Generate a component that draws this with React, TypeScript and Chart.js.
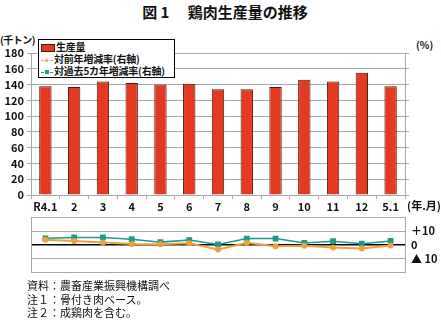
import React, { useEffect, useRef } from "react";
import { Chart, registerables } from "chart.js";

Chart.register(...registerables);

const categories = ["R4.1", "2", "3", "4", "5", "6", "7", "8", "9", "10", "11", "12", "5.1"];
const production = [138, 137, 144, 142, 140, 141, 134, 134, 137, 146, 144, 155, 138];
const yoyRate = [3.8, 3.0, 1.9, 0.8, 0.6, 1.3, -3.2, 1.7, -0.9, -0.6, -1.9, -2.6, -0.3];
const fiveYearRate = [4.9, 5.5, 5.5, 4.2, 2.1, 3.6, 0.4, 4.7, 4.7, 1.5, 2.8, 1.0, 3.0];
const leftTicks = [0, 20, 40, 60, 80, 100, 120, 140, 160, 180];
const rightTicks = [-20, -10, 0, 10, 20];
const rightTickLabels: Record<string, string> = { "10": "＋10", "0": "0", "-10": "▲ 10" };

const FONT = "'Noto Sans CJK JP', 'Noto Sans', sans-serif";
const GRID = "#a8a8a8";
const RED = "#e53a22";
const ORANGE = "#f0a038";
const TEAL = "#1e9a8c";

export default function App() {
  const topRef = useRef<HTMLCanvasElement>(null);
  const botRef = useRef<HTMLCanvasElement>(null);

  useEffect(() => {
    const tickFont = { family: FONT, size: 11, weight: "bold" as const };
    const top = new Chart(topRef.current!, {
      type: "bar",
      data: {
        labels: categories,
        datasets: [
          {
            label: "生産量",
            data: production,
            backgroundColor: RED,
            borderColor: "#4a1a10",
            borderWidth: 1,
            barPercentage: 0.43,
            categoryPercentage: 1,
            yAxisID: "y",
          },
        ],
      },
      options: {
        animation: false,
        responsive: false,
        maintainAspectRatio: false,
        layout: { padding: { top: 53, left: 0, right: 0, bottom: 0 } },
        plugins: { legend: { display: false }, tooltip: { enabled: false } },
        scales: {
          x: {
            offset: true,
            grid: { drawOnChartArea: false, offset: true, tickLength: 4, color: GRID },
            border: { color: GRID },
            ticks: { color: "#111", font: tickFont, padding: 1, maxRotation: 0, autoSkip: false },
            afterFit: (s: any) => { s.height = 20; },
          },
          y: {
            position: "left",
            min: 0,
            max: 180,
            afterBuildTicks: (s: any) => { s.ticks = leftTicks.map((v) => ({ value: v })); },
            grid: { color: GRID, tickLength: 4 },
            border: { color: GRID },
            ticks: { color: "#111", font: tickFont, padding: 3, autoSkip: false },
            afterFit: (s: any) => { s.width = 31; },
          },
          y1: {
            position: "right",
            min: 0,
            max: 180,
            afterBuildTicks: (s: any) => { s.ticks = leftTicks.map((v) => ({ value: v })); },
            grid: { drawOnChartArea: false, color: GRID, tickLength: 4 },
            border: { color: GRID },
            ticks: { display: false, autoSkip: false },
            afterFit: (s: any) => { s.width = 36; },
          },
        },
      },
    });

    const bot = new Chart(botRef.current!, {
      type: "line",
      data: {
        labels: categories,
        datasets: [
          {
            label: "対前年増減率（右軸）",
            data: yoyRate,
            borderColor: ORANGE,
            backgroundColor: ORANGE,
            borderWidth: 2,
            pointRadius: 2,
            pointStyle: "circle",
            yAxisID: "y",
          },
          {
            label: "対過去5カ年増減率（右軸）",
            data: fiveYearRate,
            borderColor: TEAL,
            backgroundColor: TEAL,
            borderWidth: 1.5,
            pointRadius: 3,
            pointStyle: "rect",
            yAxisID: "y",
          },
        ],
      },
      options: {
        animation: false,
        responsive: false,
        maintainAspectRatio: false,
        layout: { padding: { top: 7, left: 0, right: 0, bottom: 6 } },
        plugins: { legend: { display: false }, tooltip: { enabled: false } },
        scales: {
          x: { display: false, offset: true },
          yl: {
            position: "left",
            min: -20,
            max: 20,
            ticks: { display: false, autoSkip: false },
            afterBuildTicks: (s: any) => { s.ticks = rightTicks.map((v) => ({ value: v })); },
            grid: { drawOnChartArea: false, drawTicks: false },
            border: { color: GRID },
            afterFit: (s: any) => { s.width = 31; },
          },
          y: {
            position: "right",
            min: -20,
            max: 20,
            afterBuildTicks: (s: any) => { s.ticks = rightTicks.map((v) => ({ value: v })); },
            ticks: {
              autoSkip: false,
              color: "#111",
              font: tickFont,
              padding: 6,
              callback: (v: any) => rightTickLabels[String(v)] ?? "",
            },
            grid: {
              color: (c: any) => (c.tick && c.tick.value === 0 ? "#000" : GRID),
              lineWidth: (c: any) => (c.tick && c.tick.value === 0 ? 1.5 : 1),
              tickLength: 0,
            },
            border: { color: GRID },
            afterFit: (s: any) => { s.width = 36; },
          },
        },
      },
    });

    return () => {
      top.destroy();
      bot.destroy();
    };
  }, []);

  const txt: React.CSSProperties = { position: "absolute", fontFamily: FONT, color: "#111", whiteSpace: "pre" };

  const lineSwatch = (color: string, square: boolean) => (
    <span style={{ position: "relative", display: "inline-block", width: 12, height: 8, marginRight: 1, verticalAlign: "middle" }}>
      <span style={{ position: "absolute", left: 0, right: 0, top: 4, borderTop: `1px dashed ${color}` }} />
      <span
        style={{
          position: "absolute",
          left: 4,
          top: square ? 2 : 2.5,
          width: square ? 4 : 3,
          height: square ? 4 : 3,
          borderRadius: square ? 0 : 2,
          background: color,
        }}
      />
    </span>
  );

  return (
    <div style={{ position: "fixed", left: 0, top: 0, width: 441, height: 320, background: "#fff", overflow: "hidden" }}>
      <div style={{ ...txt, left: 0, width: 450, top: 1, textAlign: "center", fontSize: 15, fontWeight: 700 }}>
        {"図 1　 鶏肉生産量の推移"}
      </div>
      <div style={{ ...txt, left: 0, top: 32, fontSize: 10, fontWeight: 700, letterSpacing: -0.5 }}>(千トン)</div>
      <div style={{ ...txt, left: 416, top: 37, fontSize: 10, fontWeight: 700 }}>(%)</div>
      <canvas ref={topRef} width={441} height={215} style={{ position: "absolute", left: 0, top: 0 }} />
      <canvas ref={botRef} width={441} height={80} style={{ position: "absolute", left: 0, top: 205 }} />
      <div style={{ ...txt, left: 407, top: 197, fontSize: 11, fontWeight: 700 }}>(年.月)</div>
      <div
        style={{
          position: "absolute",
          left: 38,
          top: 39,
          width: 133,
          height: 36,
          border: "1px solid #000",
          background: "#fff",
          fontFamily: FONT,
          fontSize: 10,
          fontWeight: 700,
          lineHeight: "12px",
          color: "#111",
          padding: "1px 0 0 2px",
          boxSizing: "content-box",
          whiteSpace: "nowrap",
          overflow: "hidden",
          letterSpacing: -0.2,
        }}
      >
        <div>
          <span style={{ display: "inline-block", width: 12, height: 6, background: RED, border: "1px solid #4a1a10", marginRight: 1, verticalAlign: "middle" }} />
          生産量
        </div>
        <div>{lineSwatch(ORANGE, false)}対前年増減率(右軸)</div>
        <div>{lineSwatch(TEAL, true)}対過去5カ年増減率(右軸)</div>
      </div>
      <div style={{ ...txt, left: 27, top: 279, fontSize: 11, lineHeight: "13.5px" }}>
        {"資料：農畜産業振興機構調べ\n注１：骨付き肉ベース。\n注２：成鶏肉を含む。"}
      </div>
    </div>
  );
}
